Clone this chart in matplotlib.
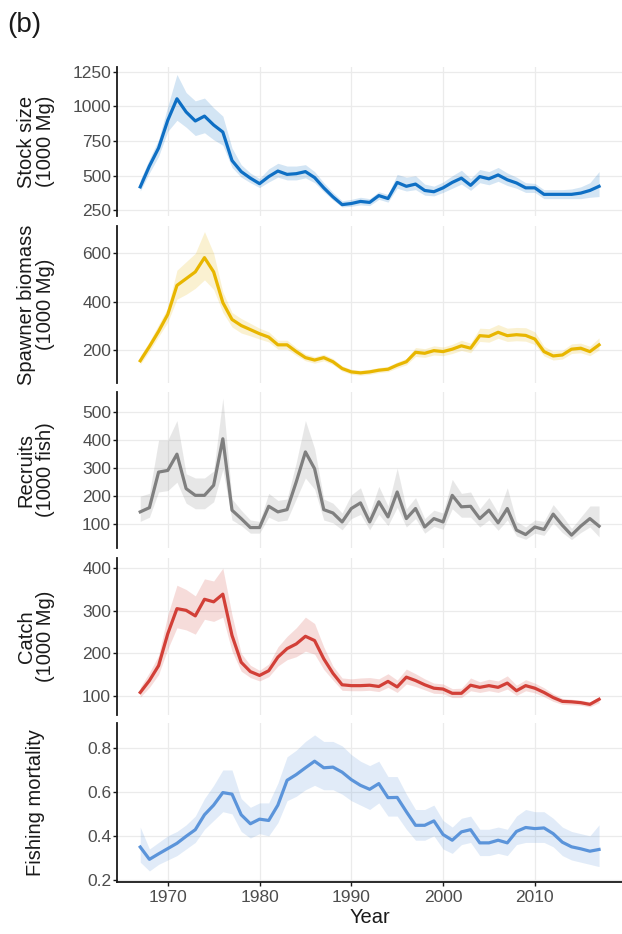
import matplotlib
matplotlib.use("Agg")
import matplotlib.pyplot as plt

plt.rcParams['font.family'] = ['Liberation Sans', 'DejaVu Sans']

years = list(range(1967, 2018))

stock = [420, 570, 700, 900, 1055, 960, 895, 930, 866, 815, 610, 530, 483, 443, 494, 534, 510, 515, 530, 487,
         413, 348, 292, 300, 315, 308, 357, 336, 452, 424, 440, 394, 385, 413, 452, 483, 431, 494, 478, 506,
         471, 448, 413, 413, 366, 366, 366, 366, 375, 394, 424]
stock_hi = [470, 620, 760, 1000, 1230, 1100, 1040, 1060, 990, 930, 700, 580, 520, 480, 550, 590, 570, 570, 580, 530,
            450, 380, 320, 330, 345, 335, 385, 365, 510, 490, 500, 440, 425, 455, 500, 540, 480, 545, 530, 560,
            520, 490, 450, 445, 400, 400, 400, 405, 420, 450, 530]
stock_lo = [390, 520, 640, 820, 900, 850, 790, 810, 760, 720, 560, 490, 450, 415, 455, 490, 470, 470, 485, 450,
            385, 325, 275, 280, 290, 285, 330, 310, 410, 390, 400, 360, 355, 380, 410, 440, 395, 450, 435, 460,
            430, 410, 380, 380, 335, 335, 335, 335, 335, 345, 350]

spawn = [155, 214, 277, 347, 467, 495, 523, 582, 523, 396, 326, 301, 284, 267, 253, 221, 221, 193, 168, 158,
         168, 151, 123, 109, 105, 109, 116, 120, 137, 151, 190, 186, 197, 193, 203, 217, 207, 259, 256, 273,
         259, 263, 260, 245, 193, 175, 179, 203, 207, 193, 221]
spawn_hi = [175, 235, 305, 375, 530, 565, 600, 690, 600, 440, 355, 330, 310, 290, 275, 240, 240, 210, 183, 172,
            182, 164, 134, 120, 116, 120, 127, 132, 150, 165, 210, 205, 217, 212, 223, 240, 228, 290, 288, 305,
            290, 293, 292, 275, 215, 195, 198, 225, 228, 215, 250]
spawn_lo = [140, 195, 255, 315, 410, 430, 455, 490, 450, 355, 295, 270, 258, 245, 233, 203, 203, 177, 155, 145,
            155, 139, 112, 99, 95, 99, 106, 110, 125, 138, 173, 169, 179, 176, 185, 198, 188, 235, 232, 248,
            235, 238, 236, 222, 175, 158, 162, 185, 188, 176, 200]

recr = [144, 159, 286, 292, 350, 227, 203, 203, 239, 405, 150, 120, 88, 88, 164, 144, 152, 251, 358, 298,
        152, 140, 108, 156, 176, 108, 180, 126, 215, 120, 156, 90, 120, 108, 203, 162, 164, 120, 150, 105,
        156, 79, 63, 90, 81, 136, 96, 61, 93, 120, 93]
recr_hi = [200, 210, 400, 400, 470, 280, 265, 265, 290, 550, 190, 150, 115, 110, 210, 185, 190, 320, 470, 370,
           190, 175, 140, 205, 230, 140, 235, 165, 300, 155, 195, 120, 150, 140, 260, 210, 215, 155, 195, 140,
           230, 110, 90, 115, 110, 170, 130, 85, 125, 165, 165]
recr_lo = [110, 125, 215, 220, 250, 175, 155, 155, 180, 295, 115, 95, 68, 68, 125, 110, 115, 190, 265, 225,
           115, 105, 80, 120, 135, 80, 135, 95, 160, 90, 120, 68, 92, 82, 155, 125, 125, 90, 115, 78,
           115, 58, 46, 68, 60, 105, 70, 45, 70, 90, 55]

catch = [108, 136, 171, 246, 305, 301, 288, 327, 321, 339, 242, 179, 157, 148, 159, 191, 211, 222, 240, 230,
         187, 153, 126, 124, 124, 125, 122, 134, 121, 144, 136, 126, 118, 116, 106, 106, 125, 120, 124, 120,
         130, 112, 124, 118, 108, 96, 87, 86, 84, 80, 92]
catch_hi = [120, 155, 195, 290, 360, 350, 335, 375, 370, 400, 290, 200, 172, 160, 175, 215, 240, 260, 285, 270,
            215, 170, 142, 140, 142, 143, 140, 152, 137, 163, 152, 140, 130, 128, 117, 118, 142, 133, 139, 135,
            147, 125, 138, 130, 119, 105, 94, 92, 90, 86, 97]
catch_lo = [97, 120, 150, 210, 260, 255, 245, 280, 275, 285, 205, 158, 143, 135, 145, 170, 185, 192, 205, 198,
            162, 137, 113, 112, 112, 113, 110, 120, 108, 128, 122, 114, 106, 105, 96, 96, 112, 108, 112, 108,
            116, 101, 112, 107, 98, 87, 80, 79, 78, 74, 84]

fmort = [0.349, 0.293, 0.318, 0.342, 0.366, 0.398, 0.428, 0.496, 0.540, 0.597, 0.590, 0.496, 0.455, 0.476, 0.470,
         0.540, 0.653, 0.679, 0.710, 0.740, 0.710, 0.713, 0.690, 0.656, 0.630, 0.612, 0.638, 0.574, 0.575, 0.510,
         0.448, 0.448, 0.468, 0.406, 0.380, 0.418, 0.428, 0.368, 0.368, 0.380, 0.368, 0.420, 0.438, 0.433, 0.436,
         0.410, 0.371, 0.350, 0.341, 0.330, 0.338]
fmort_hi = [0.44, 0.34, 0.37, 0.40, 0.42, 0.45, 0.49, 0.57, 0.63, 0.70, 0.70, 0.57, 0.53, 0.55, 0.55,
            0.64, 0.76, 0.79, 0.83, 0.86, 0.83, 0.83, 0.81, 0.77, 0.74, 0.72, 0.74, 0.67, 0.67, 0.59,
            0.52, 0.52, 0.54, 0.47, 0.44, 0.48, 0.49, 0.43, 0.43, 0.44, 0.43, 0.49, 0.52, 0.51, 0.51,
            0.48, 0.44, 0.42, 0.41, 0.40, 0.45]
fmort_lo = [0.28, 0.24, 0.27, 0.29, 0.31, 0.34, 0.37, 0.43, 0.47, 0.51, 0.50, 0.42, 0.39, 0.41, 0.40,
            0.46, 0.56, 0.58, 0.61, 0.63, 0.61, 0.61, 0.59, 0.56, 0.54, 0.52, 0.55, 0.49, 0.49, 0.43,
            0.38, 0.38, 0.40, 0.34, 0.32, 0.36, 0.37, 0.31, 0.31, 0.32, 0.31, 0.36, 0.37, 0.37, 0.37,
            0.35, 0.31, 0.29, 0.28, 0.27, 0.26]

labels = ["Stock size\n(1000 Mg)", "Spawner biomass\n(1000 Mg)", "Recruits\n(1000 fish)",
          "Catch\n(1000 Mg)", "Fishing mortality"]
colors = ["#0E6FC4", "#E8B600", "#7F7F7F", "#D23F37", "#5B94DA"]
yticks = [[250, 500, 750, 1000, 1250], [200, 400, 600], [100, 200, 300, 400, 500],
          [100, 200, 300, 400], [0.2, 0.4, 0.6, 0.8]]
ylims = [(210, 1284), (63, 713), (15, 572), (55, 424), (0.192, 0.914)]
xticks = [1970, 1980, 1990, 2000, 2010]

series = [(stock, stock_lo, stock_hi), (spawn, spawn_lo, spawn_hi), (recr, recr_lo, recr_hi),
          (catch, catch_lo, catch_hi), (fmort, fmort_lo, fmort_hi)]

# panel top/bottom in pixels
panels_px = [(67, 216), (226, 383), (392, 548), (558, 715), (723, 881.5)]

W, H = 622, 934
fig = plt.figure(figsize=(W / 100, H / 100), dpi=100)
left = 117.3 / W

for i, ((mid, lo, hi), (top, bot)) in enumerate(zip(series, panels_px)):
    ax = fig.add_axes([left, 1 - bot / H, 1 - left, (bot - top) / H])
    ax.fill_between(years, lo, hi, color=colors[i], alpha=0.18, lw=0, zorder=2)
    ax.plot(years, mid, color=colors[i], lw=2.3, zorder=3, solid_joinstyle='round')
    ax.set_xlim(1964.5, 2019.5)
    ax.set_ylim(*ylims[i])
    ax.set_xticks(xticks)
    ax.set_yticks(yticks[i])
    ax.grid(True, color="#EBEBEB", lw=0.9, zorder=0)
    ax.set_axisbelow(True)
    for s in ["top", "right"]:
        ax.spines[s].set_visible(False)
    ax.spines["left"].set_linewidth(1.3)
    ax.spines["left"].set_color("#1a1a1a")
    ax.tick_params(axis="y", length=3, width=1, colors="#1a1a1a", labelcolor="#4D4D4D",
                   labelsize=12.5, pad=1.5)
    if i < 4:
        ax.spines["bottom"].set_visible(False)
        ax.tick_params(axis="x", length=0, labelbottom=False)
    else:
        ax.spines["bottom"].set_linewidth(1.3)
        ax.spines["bottom"].set_color("#1a1a1a")
        ax.tick_params(axis="x", length=3, width=1, colors="#1a1a1a", labelcolor="#4D4D4D",
                       labelsize=12.5, pad=3)
        ax.set_yticklabels(["0.2", "0.4", "0.6", "0.8"])
        ax.set_xlabel("Year", fontsize=14.5, color="#1a1a1a", labelpad=2)
    fig.text(36 / W, 1 - (top + bot) / 2 / H, labels[i], rotation=90, ha="center", va="center",
             multialignment="center", fontsize=14.5, color="#1a1a1a", linespacing=1.05)

fig.text(7 / W, 1 - 25 / H, "(b)", ha="left", va="center", fontsize=20, color="#1a1a1a")

fig.savefig("out.png", dpi=100)
